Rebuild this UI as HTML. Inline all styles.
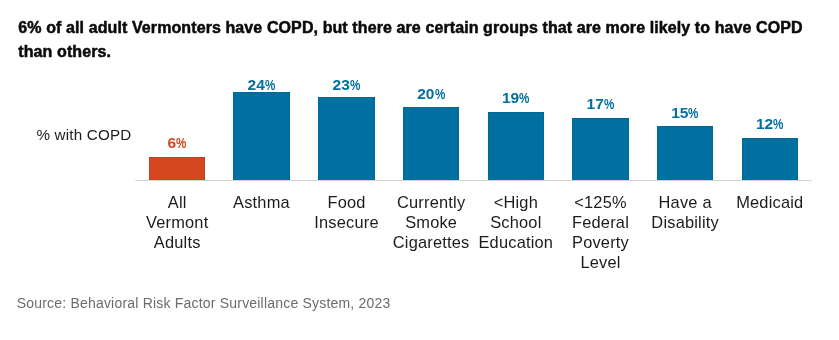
<!DOCTYPE html>
<html><head><meta charset="utf-8"><style>
html,body{margin:0;padding:0;background:#fff;width:839px;height:340px;overflow:hidden}
body{position:relative;font-family:"Liberation Sans",sans-serif}
#wrap{position:absolute;left:0;top:0;width:839px;height:340px;will-change:transform}
.title{position:absolute;left:18.3px;top:16.21px;font-size:16px;line-height:23.7px;font-weight:bold;color:#0a0a0a;white-space:nowrap;letter-spacing:0.1px;-webkit-text-stroke:0.5px #0a0a0a}
.ylab{position:absolute;left:36.5px;top:124.73px;font-size:15.2px;line-height:20px;color:#1c1c1c;white-space:nowrap;letter-spacing:0.2px}
.bar{position:absolute;box-shadow:inset 1px 1px 0 rgba(0,0,30,0.08),inset -1px 0 0 rgba(0,0,30,0.08)}
.axis{position:absolute;left:134.5px;top:180px;width:677.5px;height:1px;background:#d4d4d4}
.val{position:absolute;width:80px;text-align:center;font-size:15.5px;line-height:16.0px;font-weight:bold;white-space:nowrap;letter-spacing:0px}
.val i{font-style:normal;display:inline-block;width:10.6px;transform:scaleX(0.75);transform-origin:0 0}
.cat{position:absolute;width:90px;text-align:center;font-size:16.4px;line-height:20.0px;color:#1c1c1c;white-space:nowrap;letter-spacing:0.2px}
.src{position:absolute;left:16.7px;top:293.75px;font-size:14px;line-height:18px;color:#6b6b6b;white-space:nowrap;letter-spacing:0.2px}
</style></head><body><div id="wrap">
<div class="title">6% of all adult Vermonters have COPD, but there are certain groups that are more likely to have COPD<br>than others.</div>
<div class="ylab">% with COPD</div>
<div class="bar" style="left:148.90px;top:156.90px;width:56.60px;height:23.10px;background:#d4461e"></div>
<div class="val" style="left:137.20px;top:135.03px;color:#d4461e">6<i>%</i></div>
<div class="cat" style="left:132.20px;top:192.42px">All<br>Vermont<br>Adults</div>
<div class="bar" style="left:233.16px;top:92.00px;width:56.60px;height:88.00px;background:#0070a1"></div>
<div class="val" style="left:221.46px;top:76.93px;color:#0070a1">24<i>%</i></div>
<div class="cat" style="left:216.46px;top:192.42px">Asthma</div>
<div class="bar" style="left:318.22px;top:97.00px;width:56.60px;height:83.00px;background:#0070a1"></div>
<div class="val" style="left:306.52px;top:76.93px;color:#0070a1">23<i>%</i></div>
<div class="cat" style="left:301.52px;top:192.42px">Food<br>Insecure</div>
<div class="bar" style="left:402.88px;top:107.20px;width:56.60px;height:72.80px;background:#0070a1"></div>
<div class="val" style="left:391.18px;top:86.33px;color:#0070a1">20<i>%</i></div>
<div class="cat" style="left:386.18px;top:192.42px">Currently<br>Smoke<br>Cigarettes</div>
<div class="bar" style="left:487.54px;top:111.80px;width:56.60px;height:68.20px;background:#0070a1"></div>
<div class="val" style="left:475.84px;top:89.93px;color:#0070a1">19<i>%</i></div>
<div class="cat" style="left:470.84px;top:192.42px">&lt;High<br>School<br>Education</div>
<div class="bar" style="left:572.20px;top:118.20px;width:56.60px;height:61.80px;background:#0070a1"></div>
<div class="val" style="left:560.50px;top:96.43px;color:#0070a1">17<i>%</i></div>
<div class="cat" style="left:555.50px;top:192.42px">&lt;125%<br>Federal<br>Poverty<br>Level</div>
<div class="bar" style="left:656.86px;top:126.20px;width:56.60px;height:53.80px;background:#0070a1"></div>
<div class="val" style="left:645.16px;top:104.53px;color:#0070a1">15<i>%</i></div>
<div class="cat" style="left:640.16px;top:192.42px">Have a<br>Disability</div>
<div class="bar" style="left:741.52px;top:137.90px;width:56.60px;height:42.10px;background:#0070a1"></div>
<div class="val" style="left:729.82px;top:115.53px;color:#0070a1">12<i>%</i></div>
<div class="cat" style="left:724.82px;top:192.42px">Medicaid</div>
<div class="axis"></div>
<div class="src">Source: Behavioral Risk Factor Surveillance System, 2023</div>
</div></body></html>
